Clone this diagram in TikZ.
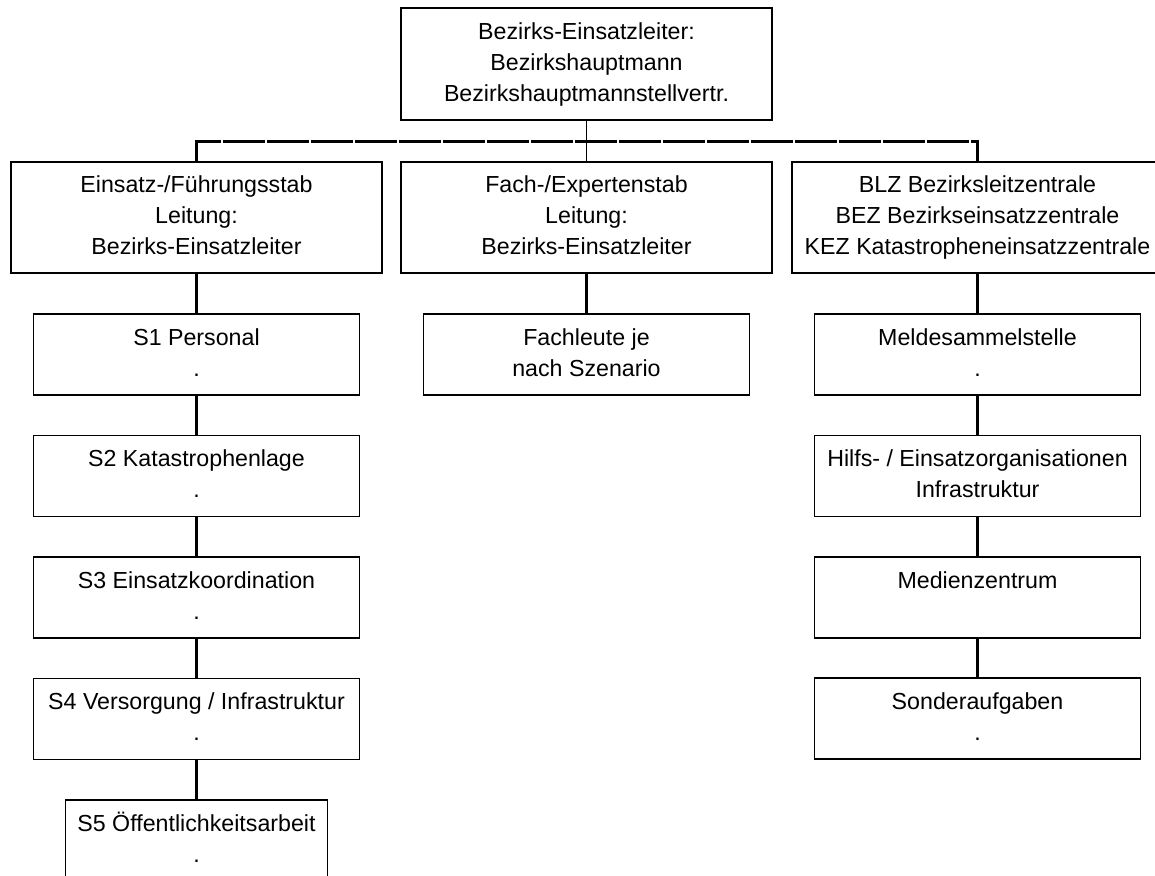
\documentclass[tikz,border=0pt]{standalone}
\usepackage{fontspec}
\setmainfont{Liberation Sans}
\newcommand\zl[2]{\strut#1\\\strut#2}
\newcommand\dl[3]{\strut#1\\\strut#2\\\strut#3}
\begin{document}
\begin{tikzpicture}[x=0.5pt,y=-0.5pt,
  box/.style={draw=black, line width=0.65pt, fill=white, align=center, inner sep=0pt,
    font=\fontsize{11.6}{15.5}\selectfont},
  bigbox/.style={box, minimum width=185.5pt, minimum height=55.5pt},
  smallbox/.style={box, minimum width=163pt, minimum height=40.5pt},
  link/.style={line width=1.5pt, line cap=rect},
  thinlink/.style={line width=0.8pt},
  buslink/.style={line width=1.3pt, line cap=butt, dash pattern=on 21pt off 1pt, dash phase=9pt}]
\useasboundingbox (0,0) rectangle (1155,876);
\clip (0,0) rectangle (1155,876);
\fill[white] (0,0) rectangle (1155,876);

% top
\node[bigbox, minimum height=56pt] (top) at (586.5,64) {\dl{Bezirks-Einsatzleiter:}{Bezirkshauptmann}{Bezirkshauptmannstellvertr.}};

% level 2
\node[bigbox] (l2) at (196.5,217.5) {\dl{Einsatz-/Führungsstab}{Leitung:}{Bezirks-Einsatzleiter}};
\node[bigbox] (m2) at (586.5,217.5) {\dl{Fach-/Expertenstab}{Leitung:}{Bezirks-Einsatzleiter}};
\node[bigbox] (r2) at (977.5,217.5) {\dl{BLZ Bezirksleitzentrale}{BEZ Bezirkseinsatzzentrale}{KEZ Katastropheneinsatzzentrale}};

% bus
\coordinate (busL) at (196.5,141.5);
\coordinate (busC) at (586.5,141.5);
\coordinate (busR) at (977.5,141.5);
\draw[buslink] (busL) -- (busR);
\draw[thinlink] (top.south) -- (busC);
\draw[thinlink] (busC) -- (m2.north);
\draw[link] (busL) -- (l2.north);
\draw[link] (busR) -- (r2.north);

% left column
\node[smallbox] (s1) at (196.5,354.5) {\zl{S1 Personal}{.}};
\node[smallbox] (s2) at (196.5,476) {\zl{S2 Katastrophenlage}{.}};
\node[smallbox] (s3) at (196.5,597.5) {\zl{S3 Einsatzkoordination}{.}};
\node[smallbox] (s4) at (196.5,719) {\zl{S4 Versorgung / Infrastruktur}{.}};
\node[smallbox, minimum width=131pt] (s5) at (196.5,840.5) {\zl{S5 Öffentlichkeitsarbeit}{.}};
\draw[link, line cap=butt] (l2.south) -- (s1.north);
\draw[link, line cap=butt] (s1.south) -- (s2.north);
\draw[link, line cap=butt] (s2.south) -- (s3.north);
\draw[link, line cap=butt] (s3.south) -- (s4.north);
\draw[link, line cap=butt] (s4.south) -- (s5.north);

% middle column
\node[smallbox] (f1) at (586.5,354.5) {\zl{Fachleute je}{nach Szenario}};
\draw[link, line cap=butt] (m2.south) -- (f1.north);

% right column
\node[smallbox] (r1) at (977.5,354.5) {\zl{Meldesammelstelle}{.}};
\node[smallbox] (rr2) at (977.5,476) {\zl{Hilfs- / Einsatzorganisationen}{Infrastruktur}};
\node[smallbox] (r3) at (977.5,597.5) {\zl{Medienzentrum}{}};
\node[smallbox] (r4) at (977.5,718.5) {\zl{Sonderaufgaben}{.}};
\draw[link, line cap=butt] (r2.south) -- (r1.north);
\draw[link, line cap=butt] (r1.south) -- (rr2.north);
\draw[link, line cap=butt] (rr2.south) -- (r3.north);
\draw[link, line cap=butt] (r3.south) -- (r4.north);
\end{tikzpicture}
\end{document}
